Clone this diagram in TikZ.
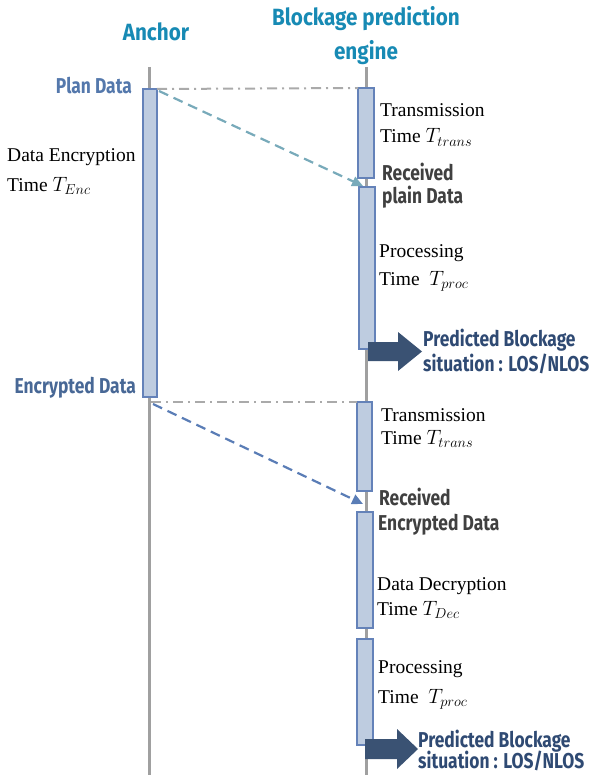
\documentclass[tikz,border=0pt]{standalone}
\usepackage{fontspec}
\setmainfont{Liberation Serif}
\newfontfamily\hfont[FakeStretch=0.81]{Fira Sans}
\newfontfamily\tfont[FakeStretch=0.88]{Fira Sans}
\DeclareMathSizes{19.5}{19.5}{15.5}{12}
\usetikzlibrary{arrows.meta}
\definecolor{titlecol}{RGB}{23,138,180}
\definecolor{plancol}{RGB}{84,120,172}
\definecolor{enccol}{RGB}{72,104,150}
\definecolor{recvcol}{RGB}{64,64,64}
\definecolor{predcol}{RGB}{47,74,115}
\definecolor{bigarrow}{RGB}{58,82,115}
\definecolor{boxfill}{RGB}{190,204,224}
\definecolor{boxdraw}{RGB}{100,130,185}
\definecolor{lifecol}{RGB}{160,160,160}
\definecolor{dotcol}{RGB}{170,170,170}
\definecolor{msgone}{RGB}{120,170,186}
\definecolor{msgtwo}{RGB}{90,125,182}
\begin{document}
\begin{tikzpicture}[x=1pt,y=-1pt,
  lifeline/.style={draw=lifecol,line width=3pt},
  actbox/.style={draw=boxdraw,fill=boxfill,line width=1.3pt},
  ddline/.style={draw=dotcol,line width=2pt,dash pattern=on 10pt off 5pt on 2pt off 5pt},
  msg/.style={line width=2.2pt,dash pattern=on 10pt off 6pt},
  title/.style={font=\tfont\bfseries\fontsize{23.5}{26}\selectfont,text=titlecol,inner sep=0pt},
  blabel/.style={font=\hfont\bfseries\fontsize{21.5}{24}\selectfont,inner sep=0pt,anchor=base west},
  slabel/.style={font=\fontsize{19.5}{24}\selectfont,text=black,inner sep=0pt,anchor=base west},
  fat/.style={fill=bigarrow,draw=none}
]
\useasboundingbox (0,0) rectangle (593,778);
% titles
\node[title,anchor=base] (tanchor) at (156,41) {Anchor};
\node[title,anchor=base] (teng1) at (366,26) {Blockage prediction};
\node[title,anchor=base] (teng2) at (366,60) {engine};
% lifelines
\coordinate (atop) at (149,67);
\coordinate (abot) at (149,775);
\coordinate (etop) at (366.5,67);
\coordinate (ebot) at (366.5,775);
\draw[lifeline] (atop) -- (abot);
\draw[lifeline] (etop) -- (ebot);
% activation boxes
\draw[actbox] (143,89) rectangle (157,397);
\coordinate (aboxtr) at (157,89);
\draw[actbox] (358,88) rectangle (374,178);
\coordinate (b1tl) at (358,88);
\draw[actbox] (359,187) rectangle (375,349);
\draw[actbox] (357,402) rectangle (372,491);
\coordinate (b3tl) at (357,402);
\draw[actbox] (357,512) rectangle (373,628);
\draw[actbox] (357,639) rectangle (373,745);
% dash-dot lines
\coordinate (dd2s) at (151,402);
\draw[ddline] (aboxtr) -- (b1tl);
\draw[ddline] (dd2s) -- (b3tl);
% messages
\coordinate (m1s) at (159,91);
\coordinate (m1e) at (363,186);
\coordinate (m2s) at (153,404);
\coordinate (m2e) at (363,504);
\draw[msg,draw=msgone,-{Triangle[length=11pt,width=10pt,fill=msgone]}] (m1s) -- (m1e);
\draw[msg,draw=msgtwo,-{Triangle[length=11pt,width=10pt,fill=msgtwo]}] (m2s) -- (m2e);
% big arrows
\fill[fat] (368,342) -- (398,342) -- (398,332) -- (422,351.5) -- (398,371) -- (398,361) -- (368,361) -- cycle;
\fill[fat] (365,739) -- (397,739) -- (397,729) -- (418,749) -- (397,769) -- (397,759) -- (365,759) -- cycle;
% left labels
\node[blabel,text=plancol,anchor=base east] (lplan) at (132,94) {Plan Data};
\node[blabel,text=enccol,anchor=base east] (lenc) at (136,393) {Encrypted Data};
\node[slabel] (lenc1) at (7,162) {Data Encryption};
\node[slabel] (lenc2) at (7,191) {Time $T_{Enc}$};
% right labels
\node[slabel] (tr1a) at (380,117) {Transmission};
\node[slabel] (tr1b) at (380,143) {Time $T_{trans}$};
\node[blabel,text=recvcol] (rc1a) at (382,180) {Received};
\node[blabel,text=recvcol] (rc1b) at (382,203) {plain Data};
\node[slabel] (pr1a) at (379,257) {Processing};
\node[slabel] (pr1b) at (379,285) {Time\ \ $T_{proc}$};
\node[blabel,text=predcol] (pd1a) at (423,346) {Predicted Blockage};
\node[blabel,text=predcol] (pd1b) at (423,371) {situation : LOS/NLOS};
\node[slabel] (tr2a) at (381,421) {Transmission};
\node[slabel] (tr2b) at (381,444) {Time $T_{trans}$};
\node[blabel,text=recvcol] (rc2a) at (379,505) {Received};
\node[blabel,text=recvcol] (rc2b) at (378,530) {Encrypted Data};
\node[slabel] (dc2a) at (377,590) {Data Decryption};
\node[slabel] (dc2b) at (377,615) {Time $T_{Dec}$};
\node[slabel] (pr2a) at (378,673) {Processing};
\node[slabel] (pr2b) at (378,703) {Time\ \ $T_{proc}$};
\node[blabel,text=predcol] (pd2a) at (418,747) {Predicted Blockage};
\node[blabel,text=predcol] (pd2b) at (418,768) {situation : LOS/NLOS};
\end{tikzpicture}
\end{document}
